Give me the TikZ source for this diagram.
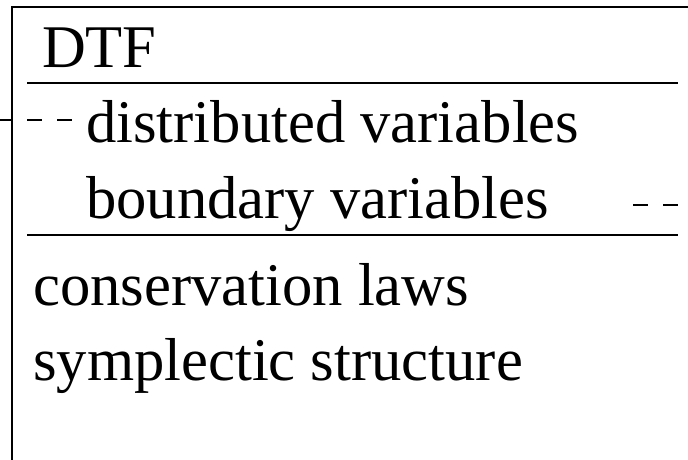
\documentclass[tikz,border=0pt]{standalone}
\usepackage{fontspec}
\setmainfont{Liberation Serif}
\begin{document}
\begin{tikzpicture}[x=1pt,y=-1pt,
  rule/.style={line width=2.2pt},
  dashmark/.style={line width=2.2pt, dash pattern=on 15pt off 15pt},
  entry/.style={anchor=base west, inner sep=0pt, font=\fontsize{60.6}{72}\selectfont}]
\useasboundingbox (0,0) rectangle (688,460);

% class frame, open towards the right and the bottom
\coordinate (frameTR) at (688,7);
\coordinate (frameTL) at (12,7);
\coordinate (frameBL) at (12,460);
\draw[rule] (frameTR) -- (frameTL) -- (frameBL);

% compartment separators
\coordinate (sepAw) at (27,83);
\coordinate (sepAe) at (678,83);
\coordinate (sepBw) at (27,235);
\coordinate (sepBe) at (678,235);
\draw[rule] (sepAw) -- (sepAe);
\draw[rule] (sepBw) -- (sepBe);

% class name
\node[entry] (name) at (42,67) {DTF};

% attributes
\node[entry] (distvar) at (86,142) {distributed variables};
\node[entry] (bndvar) at (86,218) {boundary variables};

% operations
\node[entry] (conslaw) at (33,305) {conservation laws};
\node[entry] (symp) at (33,380) {symplectic structure};

% port stubs
\coordinate (portL) at (12,120);
\coordinate (freeL) at (0,120);
\draw[rule] (freeL) -- (portL);
\coordinate (dashLa) at (27,120);
\coordinate (dashLb) at (72,120);
\draw[dashmark] (dashLa) -- (dashLb);
\coordinate (dashRa) at (633,205);
\coordinate (dashRb) at (678,205);
\draw[dashmark] (dashRa) -- (dashRb);
\end{tikzpicture}
\end{document}
